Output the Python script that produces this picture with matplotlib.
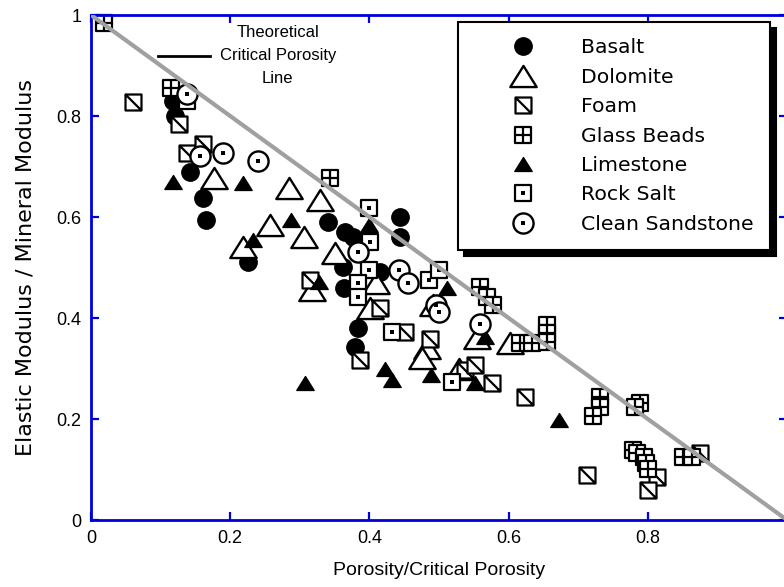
"""
Normalized elastic modulus vs normalized porosity for several rock and
granular materials, with the theoretical critical porosity line.
"""

import matplotlib
matplotlib.use("Agg")
import matplotlib.pyplot as plt
from matplotlib.path import Path
from matplotlib.markers import MarkerStyle
from matplotlib.lines import Line2D
from matplotlib.legend_handler import HandlerTuple

# ---------------------------------------------------------------
# DATA  (porosity / critical porosity, modulus / mineral modulus)
# ---------------------------------------------------------------
basalt_x = [0.118, 0.120, 0.142, 0.161, 0.165, 0.226, 0.341, 0.365, 0.377, 0.362,
            0.363, 0.444, 0.444, 0.415, 0.384, 0.379]
basalt_y = [0.830, 0.800, 0.690, 0.637, 0.595, 0.510, 0.591, 0.571, 0.561, 0.502,
            0.459, 0.601, 0.561, 0.492, 0.380, 0.343]

dolomite_x = [0.176, 0.285, 0.329, 0.257, 0.306, 0.219, 0.351, 0.318, 0.410, 0.401,
              0.492, 0.482, 0.475, 0.554, 0.602, 0.528]
dolomite_y = [0.677, 0.657, 0.634, 0.584, 0.561, 0.541, 0.528, 0.455, 0.469, 0.419,
              0.426, 0.340, 0.320, 0.360, 0.350, 0.300]

foam_x = [0.061, 0.127, 0.138, 0.161, 0.315, 0.415, 0.386, 0.451, 0.487, 0.537,
          0.552, 0.576, 0.624, 0.713, 0.813, 0.800, 0.875]
foam_y = [0.828, 0.784, 0.727, 0.745, 0.475, 0.419, 0.317, 0.373, 0.358, 0.297,
          0.307, 0.271, 0.244, 0.089, 0.086, 0.059, 0.132]

glass_x = [0.018, 0.115, 0.344, 0.559, 0.569, 0.578, 0.617, 0.633, 0.655, 0.655,
           0.655, 0.731, 0.731, 0.721, 0.789, 0.782, 0.779, 0.784, 0.794, 0.798,
           0.800, 0.851, 0.863]
glass_y = [0.985, 0.855, 0.677, 0.462, 0.442, 0.426, 0.350, 0.350, 0.387, 0.370,
           0.353, 0.244, 0.224, 0.205, 0.231, 0.224, 0.139, 0.132, 0.125, 0.112,
           0.102, 0.125, 0.125]

limestone_x = [0.118, 0.218, 0.287, 0.233, 0.327, 0.399, 0.511, 0.566, 0.422, 0.432,
               0.307, 0.489, 0.552, 0.672]
limestone_y = [0.670, 0.667, 0.594, 0.554, 0.472, 0.584, 0.459, 0.363, 0.300, 0.277,
               0.271, 0.287, 0.271, 0.198]

rocksalt_x = [0.138, 0.399, 0.401, 0.399, 0.384, 0.384, 0.485, 0.500, 0.432, 0.518]
rocksalt_y = [0.830, 0.617, 0.551, 0.495, 0.469, 0.442, 0.475, 0.495, 0.373, 0.274]

sandstone_x = [0.138, 0.157, 0.189, 0.240, 0.384, 0.442, 0.456, 0.495, 0.500, 0.559]
sandstone_y = [0.843, 0.721, 0.727, 0.711, 0.531, 0.495, 0.469, 0.425, 0.411, 0.389]

materials = ['Basalt', 'Dolomite', 'Foam', 'Glass Beads', 'Limestone',
             'Rock Salt', 'Clean Sandstone']

# critical porosity line runs from (0, 1) to (1, 0)
crit_x = [0.0, 1.0]
crit_y = [1.0, 0.0]

xtick_vals = [0, 0.2, 0.4, 0.6, 0.8, 1.0]
xtick_labels = ['0', '0.2', '0.4', '0.6', '0.8', '']
ytick_vals = [0, 0.2, 0.4, 0.6, 0.8, 1.0]
ytick_labels = ['0', '0.2', '0.4', '0.6', '0.8', '1']

# ---------------------------------------------------------------
# MARKER SHAPES
# ---------------------------------------------------------------
M, L, C = Path.MOVETO, Path.LINETO, Path.CLOSEPOLY
sq = [(-1, -1), (1, -1), (1, 1), (-1, 1), (-1, -1)]
sq_codes = [M, L, L, L, C]

foam_path = Path(sq + [(-1, 1), (1, -1)], sq_codes + [M, L])
glass_path = Path(sq + [(0, -1), (0, 1), (-1, 0), (1, 0)], sq_codes + [M, L, M, L])
box_path = Path(sq, sq_codes)
tri_path = Path([(0, 0.8), (-1, -0.8), (1, -0.8), (0, 0.8)], [M, L, L, C])

def mk(p):
    return MarkerStyle(p, joinstyle='round')

BLUE = '#0000dd'

# ---------------------------------------------------------------
# PLOT
# ---------------------------------------------------------------
fig = plt.figure(figsize=(7.84, 5.87), dpi=100)
ax = fig.add_axes([0.1161, 0.1141, 0.8878, 0.8603])

common = dict(linestyle='none', clip_on=False, markeredgecolor='k')

h_basalt, = ax.plot(basalt_x, basalt_y, marker='o', ms=12.5, mew=1,
                    markerfacecolor='k', **common)
h_dol, = ax.plot(dolomite_x, dolomite_y, marker=mk(tri_path), ms=19, mew=1.7,
                 markerfacecolor='white', **common)
h_foam, = ax.plot(foam_x, foam_y, marker=mk(foam_path), ms=11.5, mew=1.6,
                  markerfacecolor='white', **common)
h_glass, = ax.plot(glass_x, glass_y, marker=mk(glass_path), ms=11.5, mew=1.6,
                   markerfacecolor='white', **common)
h_lime, = ax.plot(limestone_x, limestone_y, marker=mk(tri_path), ms=12.5, mew=1,
                  markerfacecolor='k', **common)
h_salt, = ax.plot(rocksalt_x, rocksalt_y, marker=mk(box_path), ms=11.5, mew=1.6,
                  markerfacecolor='white', **common)
h_salt_dot, = ax.plot(rocksalt_x, rocksalt_y, marker='s', ms=2.2, mew=0,
                      markerfacecolor='k', linestyle='none', clip_on=False)
h_sand, = ax.plot(sandstone_x, sandstone_y, marker='o', ms=14.5, mew=1.7,
                  markerfacecolor='white', **common)
h_sand_dot, = ax.plot(sandstone_x, sandstone_y, marker='s', ms=2.2, mew=0,
                      markerfacecolor='k', linestyle='none', clip_on=False)

ax.plot(crit_x, crit_y, color='#a0a0a0', lw=3, solid_capstyle='butt', zorder=5)

ax.set_xlim(0, 1)
ax.set_ylim(0, 1)

ax.set_xticks(xtick_vals, xtick_labels)
ax.set_yticks(ytick_vals, ytick_labels)
ax.tick_params(direction='in', length=6, width=1.6, color=BLUE, pad=7,
               top=True, right=True, labelsize=13)
for lab in ax.get_xticklabels() + ax.get_yticklabels():
    lab.set_family('Liberation Sans')
for sp in ax.spines.values():
    sp.set_color(BLUE)
    sp.set_linewidth(2)

ax.set_xlabel('Porosity/Critical Porosity', family='Liberation Sans',
              fontsize=14, labelpad=11)
ax.set_ylabel('Elastic Modulus / Mineral Modulus', family='DejaVu Sans',
              fontsize=16, labelpad=15)

# material legend with a solid black drop shadow
leg = ax.legend([h_basalt, h_dol, h_foam, h_glass, h_lime,
                 (h_salt, h_salt_dot), (h_sand, h_sand_dot)], materials,
                loc='upper right', bbox_to_anchor=(0.9756, 0.986),
                borderaxespad=0, fancybox=False, edgecolor='k', framealpha=1,
                prop={'family': 'DejaVu Sans', 'size': 14.7},
                handlelength=4.8, handletextpad=0.44, borderpad=0.8,
                labelspacing=0.51, numpoints=1,
                shadow={'ox': 4.5, 'oy': -4.5, 'color': 'k', 'alpha': 1},
                handler_map={tuple: HandlerTuple(ndivide=1, pad=0)})
leg.get_frame().set_linewidth(1.5)
ax.add_artist(leg)

# key for the critical porosity line
crit_key = Line2D([], [], color='k', lw=2)
leg2 = ax.legend([crit_key], ['Theoretical\nCritical Porosity\nLine'],
                 loc='upper left', bbox_to_anchor=(0.096, 0.981),
                 borderaxespad=0, borderpad=0, frameon=False,
                 prop={'family': 'Liberation Sans', 'size': 12},
                 handlelength=3.1, handletextpad=0.6)
t = leg2.get_texts()[0]
t.set_multialignment('center')
t.set_linespacing(1.7)

plt.savefig('out.png', dpi=100)
plt.close()
